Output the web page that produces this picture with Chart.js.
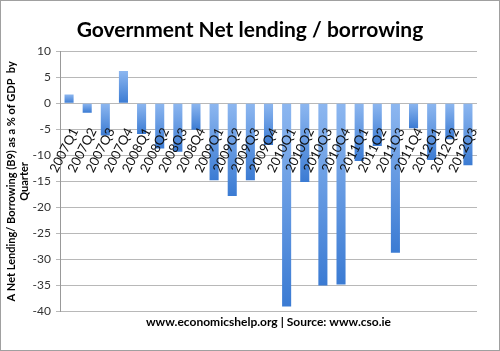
<!DOCTYPE html>
<html>
<head>
<meta charset="utf-8">
<script src="https://cdn.jsdelivr.net/npm/chart.js@4"></script>
<style>
  body { margin: 0; background: #fff; }
  #wrap { width: 500px; height: 351px; box-sizing: border-box; border: 1px solid #a0a0a0; }
</style>
</head>
<body>
<div id="wrap"><canvas id="myChart" width="498" height="349"></canvas></div>
<script>
let quarters = ["2007Q1", "2007Q2", "2007Q3", "2007Q4", "2008Q1", "2008Q2", "2008Q3", "2008Q4",
  "2009Q1", "2009Q2", "2009Q3", "2009Q4", "2010Q1", "2010Q2", "2010Q3", "2010Q4",
  "2011Q1", "2011Q2", "2011Q3", "2011Q4", "2012Q1", "2012Q2", "2012Q3"];
let netLending = [1.7, -1.8, -6.2, 6.2, -5.9, -8.7, -9.3, -5.1,
  -14.8, -17.8, -14.8, -8.0, -39.0, -15.1, -35.0, -34.8,
  -11.1, -8.2, -28.7, -4.8, -10.9, -6.9, -11.9];
let yMin = -40, yMax = 10, yStep = 5;

let font = "Lato, 'Open Sans', sans-serif";

// light at the top of each bar, darker towards the bottom
function barFill(context) {
  let chart = context.chart;
  let y = chart.scales.y;
  if (!y || context.raw == null) return "#5b94e0";
  let a = y.getPixelForValue(0);
  let b = y.getPixelForValue(context.raw);
  if (!isFinite(a) || !isFinite(b)) return "#5b94e0";
  let top = Math.min(a, b), bottom = Math.max(a, b);
  if (bottom - top < 1) bottom = top + 1;
  let g = chart.ctx.createLinearGradient(0, top, 0, bottom);
  g.addColorStop(0, "#8db7f0");
  g.addColorStop(1, "#3b7bd3");
  return g;
}

new Chart("myChart", {
  type: "bar",
  data: {
    labels: quarters,
    datasets: [{
      data: netLending,
      backgroundColor: barFill,
      borderWidth: 0,
      barPercentage: 0.5,
      categoryPercentage: 1.0
    }]
  },
  options: {
    responsive: false,
    animation: false,
    plugins: {
      legend: { display: false },
      tooltip: { enabled: false },
      title: {
        display: true,
        text: "Government Net lending / borrowing",
        color: "#000",
        font: { family: font, size: 21, weight: "bold" },
        padding: { top: 17, bottom: 8 }
      },
      subtitle: {
        display: true,
        position: "bottom",
        fullSize: false,
        text: "www.economicshelp.org | Source: www.cso.ie",
        color: "#000",
        font: { family: font, size: 12, weight: "bold" },
        padding: { top: 3, bottom: 21 }
      }
    },
    scales: {
      x: {
        position: { y: 0 },
        grid: { display: false },
        border: { display: false },
        ticks: {
          z: 1,
          autoSkip: false,
          minRotation: 63,
          maxRotation: 63,
          padding: 14,
          labelOffset: 6,
          color: "#111",
          font: { family: font, size: 13 }
        }
      },
      y: {
        min: yMin,
        max: yMax,
        afterFit: function (scale) { scale.width = 59; },
        grid: { color: "#b8b8b8", tickLength: 4 },
        border: { color: "#999" },
        ticks: {
          stepSize: yStep,
          padding: 5,
          color: "#333",
          font: { family: font, size: 12 }
        },
        title: {
          display: true,
          text: ["A Net Lending/ Borrowing (B9) as a % of GDP  by", "Quarter"],
          color: "#000",
          font: { family: font, size: 11, weight: "bold" },
          padding: { top: 4, bottom: 0 }
        }
      },
      // empty space on the right of the plot
      spacer: {
        position: "right",
        grid: { display: false },
        border: { display: false },
        ticks: { display: false },
        afterFit: function (scale) { scale.width = 22; }
      }
    }
  }
});
</script>
</body>
</html>
